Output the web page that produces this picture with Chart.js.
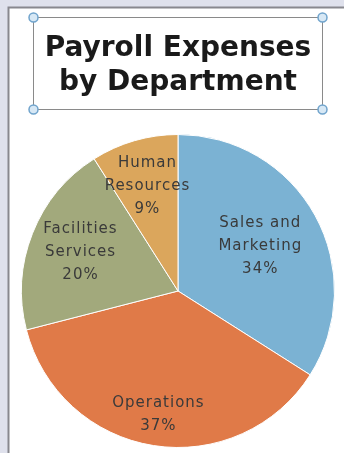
<!DOCTYPE html>
<html><head><meta charset="utf-8">
<script src="https://cdn.jsdelivr.net/npm/chart.js@4/dist/chart.umd.min.js"></script>
<style>html,body{margin:0;padding:0;background:#dfe1ec;overflow:hidden}#wrap{width:344px;height:453px;position:relative}canvas{display:block}</style>
</head><body><div id="wrap"><canvas id="c" width="344" height="453"></canvas></div>
<script>
const titleLines = ["Payroll Expenses", "by Department"];
const categories = ["Sales and Marketing", "Operations", "Facilities Services", "Human Resources"];
const labelLines = [["Sales and", "Marketing"], ["Operations"], ["Facilities", "Services"], ["Human", "Resources"]];
const percentages = [34, 37, 20, 9];
const sliceColors = ["#7bb2d3", "#e07a48", "#a2a97c", "#dba65c"];
const labelRadius = [0.6, 0.8, 0.67, 0.7];

const framePlugin = {
  id: 'frame',
  beforeDraw(chart) {
    const ctx = chart.ctx;
    ctx.save();
    ctx.fillStyle = '#dfe1ec';
    ctx.fillRect(0, 0, 344, 453);
    ctx.fillStyle = '#ffffff';
    ctx.fillRect(9, 8, 335, 445);
    ctx.strokeStyle = '#88888e';
    ctx.lineWidth = 2;
    ctx.beginPath();
    ctx.moveTo(8.5, 453); ctx.lineTo(8.5, 7.5); ctx.lineTo(344, 7.5);
    ctx.stroke();
    // title box
    ctx.strokeStyle = '#8a8a8a';
    ctx.lineWidth = 1;
    ctx.strokeRect(33.5, 17.5, 289, 92);
    const pts = [[33.5,17.5],[322.5,17.5],[33.5,109.5],[322.5,109.5]];
    pts.forEach(([x,y]) => {
      ctx.beginPath();
      ctx.arc(x, y, 4.5, 0, Math.PI*2);
      ctx.fillStyle = '#d7e8f5';
      ctx.fill();
      ctx.strokeStyle = '#6fa3cc';
      ctx.lineWidth = 1.5;
      ctx.stroke();
    });
    // title text
    ctx.fillStyle = '#1a1a1a';
    ctx.font = 'bold 28px "DejaVu Sans"';
    ctx.textAlign = 'center';
    ctx.textBaseline = 'alphabetic';
    ctx.fillText(titleLines[0], 178, 56);
    ctx.fillText(titleLines[1], 178, 90);
    ctx.restore();
  },
  afterDatasetsDraw(chart) {
    const ctx = chart.ctx;
    const meta = chart.getDatasetMeta(0);
    ctx.save();
    ctx.fillStyle = '#3a3a3a';
    ctx.font = '15px "DejaVu Sans"';
    ctx.letterSpacing = '1px';
    ctx.textAlign = 'center';
    ctx.textBaseline = 'middle';
    meta.data.forEach((arc, i) => {
      const p = arc.getProps(['x','y','startAngle','endAngle','outerRadius'], true);
      const mid = (p.startAngle + p.endAngle) / 2;
      const cx = p.x + Math.cos(mid) * p.outerRadius * labelRadius[i];
      const cy = p.y + Math.sin(mid) * p.outerRadius * labelRadius[i];
      const lines = labelLines[i].concat([chart.data.datasets[0].data[i] + '%']);
      const lh = 23;
      const top = cy - (lines.length - 1) * lh / 2;
      lines.forEach((t, j) => ctx.fillText(t, cx, top + j * lh));
    });
    ctx.restore();
  }
};

new Chart(document.getElementById('c'), {
  type: 'pie',
  data: {
    labels: categories,
    datasets: [{
      data: percentages,
      backgroundColor: sliceColors,
      borderColor: '#ffffff',
      borderWidth: 1
    }]
  },
  options: {
    responsive: false,
    animation: false,
    layout: { padding: { left: 21, right: 9, top: 134, bottom: 5 } },
    plugins: { legend: { display: false }, tooltip: { enabled: false }, title: { display: false } }
  },
  plugins: [framePlugin]
});
</script>
</body></html>
